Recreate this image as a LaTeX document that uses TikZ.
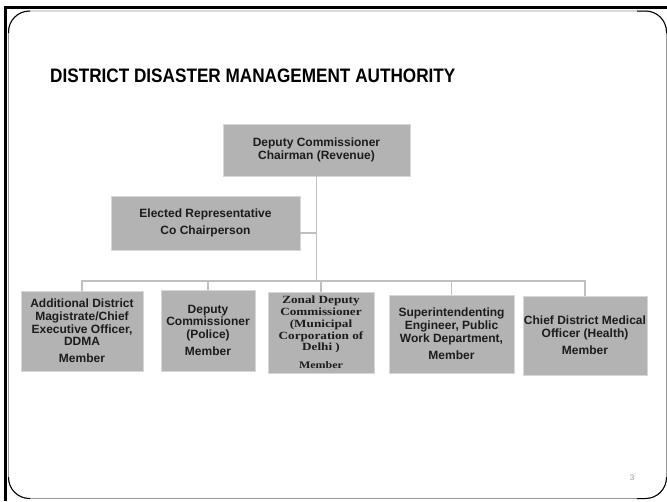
\documentclass[tikz,border=0pt]{standalone}
\usepackage{fontspec}
\setmainfont{Liberation Sans}
\newfontfamily\titlefont[FakeStretch=0.88]{Liberation Sans}
\newfontfamily\zonalfont[FakeStretch=1.2]{Liberation Serif}
\usetikzlibrary{calc}
\definecolor{boxgray}{RGB}{179,179,179}
\definecolor{boxedge}{RGB}{215,215,215}
\definecolor{linegray}{RGB}{192,192,192}
\definecolor{framegray}{RGB}{150,150,150}
\definecolor{txt}{RGB}{28,28,28}
\tikzset{
  orgbox/.style={rectangle, fill=boxgray, draw=boxedge, line width=0.8pt,
    inner sep=0pt, align=center, text=txt,
    font=\bfseries\fontsize{12}{12.7}\selectfont},
  conn/.style={draw=linegray, line width=1.3pt},
}
\begin{document}
\begin{tikzpicture}[x=1pt,y=-1pt]
\useasboundingbox (0,0) rectangle (667,501);
\fill[white] (0,0) rectangle (667,501);
% frame
\draw[line width=2.6pt] (5.3,501) -- (5.3,7.3) -- (667,7.3);
\draw[framegray, line width=0.9pt, rounded corners=21pt] (8.5,11) rectangle (666.5,498.5);
\begin{scope}
  \clip (0,0) rectangle (30,33) (637,0) rectangle (667,33) (0,477) rectangle (30,501) (637,477) rectangle (667,501);
  \draw[black, line width=1pt, rounded corners=21pt] (8.5,11) rectangle (666.5,498.5);
\end{scope}
% title
\node[anchor=base west, inner sep=0pt, text=black, font=\titlefont\bfseries\fontsize{19.5}{20}\selectfont] (title) at (50,82) {DISTRICT DISASTER MANAGEMENT AUTHORITY};
% nodes
\node[orgbox, minimum width=187pt, minimum height=52pt, font=\bfseries\fontsize{12}{13.3}\selectfont] (chair) at (316.5,150) {Deputy Commissioner\\Chairman (Revenue)};
\node[orgbox, minimum width=189pt, minimum height=54pt, font=\bfseries\fontsize{12}{17.5}\selectfont] (elec) at (205.5,223) {Elected Representative\\Co Chairperson};
\node[orgbox, minimum width=122pt, minimum height=80pt] (b1) at (82,331) {Additional District\\Magistrate/Chief\\Executive Officer,\\DDMA\\[4.5pt]Member};
\node[orgbox, minimum width=94pt, minimum height=81pt] (b2) at (208,330.5) {Deputy\\Commissioner\\(Police)\\[4.5pt]Member};
\node[orgbox, minimum width=106pt, minimum height=81pt, font=\zonalfont\bfseries\fontsize{11}{11.8}\selectfont] (b3) at (321,332.5) {Zonal Deputy\\Commissioner\\(Municipal\\Corporation of\\Delhi )\\[6pt]{\fontsize{10}{11}\selectfont Member}};
\node[orgbox, minimum width=125pt, minimum height=78pt] (b4) at (451.5,334) {Superintendenting\\Engineer, Public\\Work Department,\\[4.5pt]Member};
\node[orgbox, minimum width=124pt, minimum height=79pt] (b5) at (585,335.5) {Chief District Medical\\Officer (Health)\\[4.5pt]Member};
% connectors
\coordinate (bus) at (316.5,281);
\coordinate (ej) at ($(elec.north east)!0.685!(elec.south east)$);
\draw[conn] (chair.south) -- (chair.south |- bus);
\draw[conn] (ej) -- (chair.south |- ej);
\draw[conn] (b1.north) -- (b1.north |- bus) -- (b5.north |- bus) -- (b5.north);
\draw[conn] (b2.north) -- (b2.north |- bus);
\draw[conn] (b3.north) -- (b3.north |- bus);
\draw[conn] (b4.north) -- (b4.north |- bus);
% page number
\node[inner sep=0pt, text=gray!80, font=\fontsize{8}{8}\selectfont] (pg) at (632,478) {3};
\end{tikzpicture}
\end{document}
